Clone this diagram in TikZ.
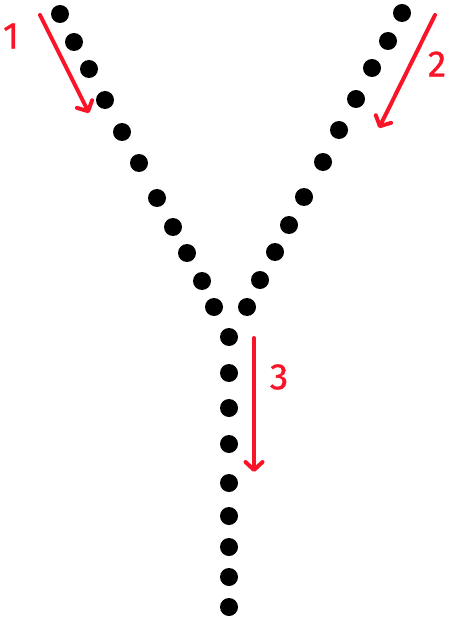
\documentclass[tikz,border=0pt]{standalone}
\usepackage{fontspec}
\setmainfont{Fira Sans}
\newfontfamily\lblfont[FakeBold=0.8]{Fira Sans}
\usetikzlibrary{arrows.meta}
\definecolor{myred}{RGB}{250,20,40}
\tikzset{
  dot/.style={circle,fill=black,inner sep=0pt,minimum size=18pt},
  redarrow/.style={draw=myred,line width=4pt,line cap=round,-{Straight Barb[length=8pt,width=17pt,line cap=round,line join=round]}},
  lbl/.style={text=myred,font=\lblfont\fontsize{37}{37}\selectfont,inner sep=0pt}
}
\begin{document}
\begin{tikzpicture}[x=1pt,y=-1pt]
\useasboundingbox (0,0) rectangle (450,620);
% left branch
\foreach \i/\x/\y in {1/60/14,2/74/42,3/89/69,4/105/100,5/122/132,6/139/163,7/157/198,8/173/227,9/187/253,10/202/281,11/214/307}
  \node[dot] (l\i) at (\x,\y) {};
% right branch
\foreach \i/\x/\y in {1/402/13,2/388/41,3/372/68,4/356/99,5/339/130,6/323/162,7/304/197,8/289/225,9/275/252,10/260/280,11/247/307}
  \node[dot] (r\i) at (\x,\y) {};
% stem
\foreach \i/\y in {1/337,2/373,3/408,4/444,5/483,6/516,7/547,8/577,9/607}
  \node[dot] (s\i) at (229,\y) {};
% arrows
\coordinate (a1s) at (40,15); \coordinate (a1e) at (89,113);
\coordinate (a2s) at (435,15); \coordinate (a2e) at (379,128);
\coordinate (a3s) at (254,338); \coordinate (a3e) at (254,472);
\draw[redarrow] (a1s) -- (a1e);
\draw[redarrow] (a2s) -- (a2e);
\draw[redarrow] (a3s) -- (a3e);
\node[lbl] (t1) at (11,36) {1};
\node[lbl] (t2) at (437,64) {2};
\node[lbl] (t3) at (279,377) {3};
\end{tikzpicture}
\end{document}
